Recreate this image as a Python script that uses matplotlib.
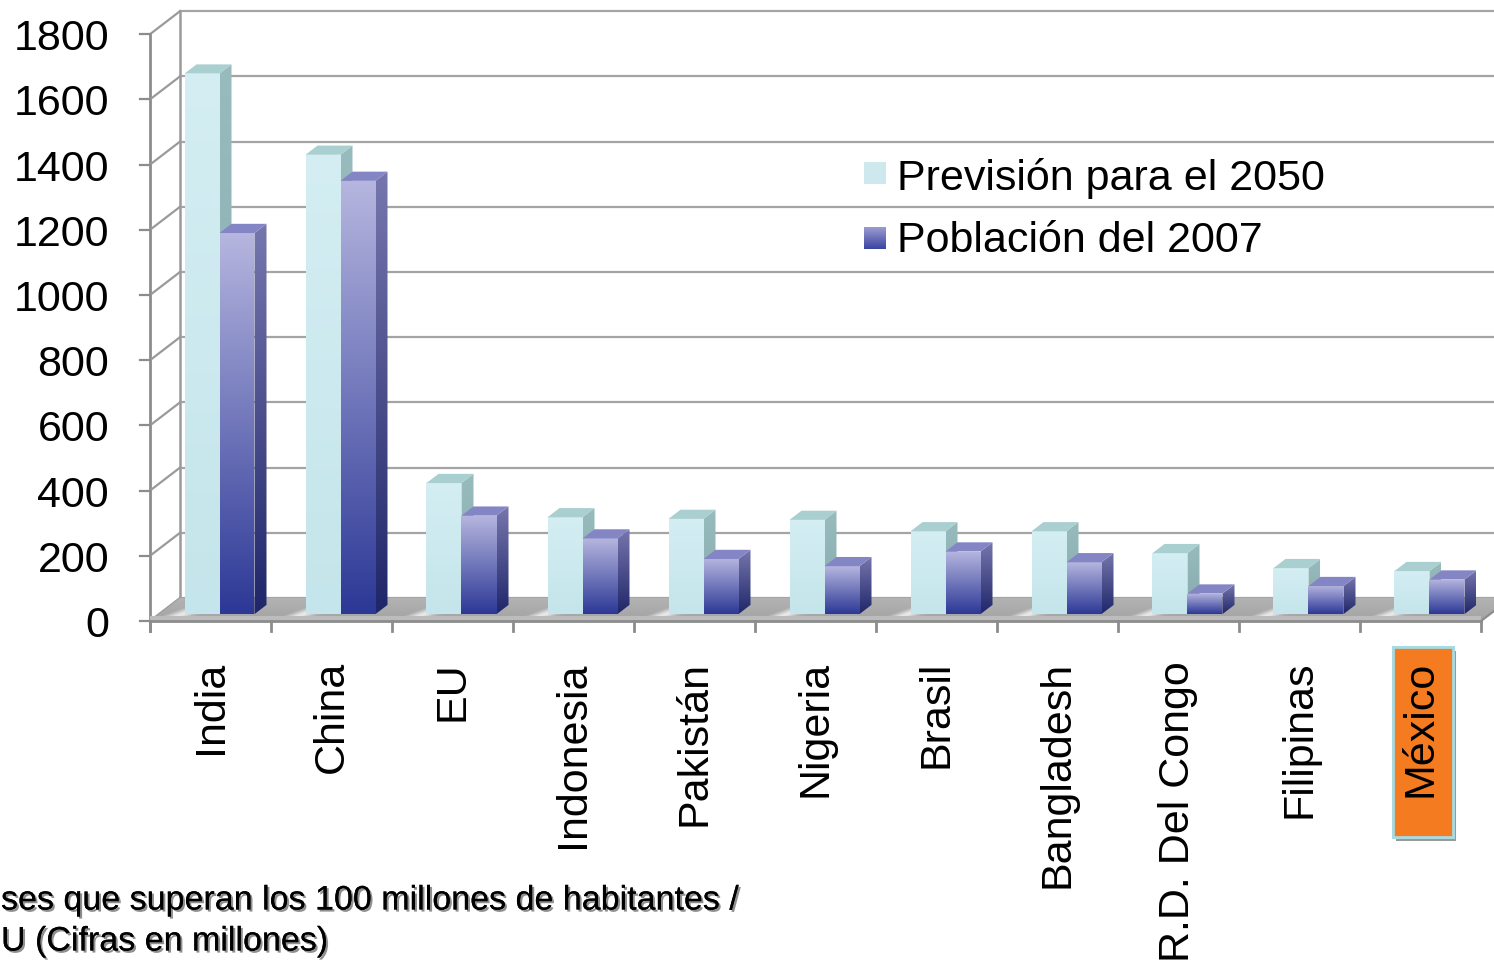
import matplotlib.pyplot as plt
import matplotlib.patheffects as pe
from matplotlib.patches import Polygon, Rectangle
from matplotlib.colors import LinearSegmentedColormap
import numpy as np

plt.rcParams['font.family'] = ['Liberation Sans', 'DejaVu Sans']

# datos (millones de habitantes)
paises = ['India', 'China', 'EU', 'Indonesia', 'Pakistán', 'Nigeria', 'Brasil',
          'Bangladesh', 'R.D. Del Congo', 'Filipinas', 'México']
prevision_2050 = [1658, 1409, 402, 297, 292, 289, 254, 254, 187, 141, 132]
poblacion_2007 = [1169, 1329, 302, 232, 169, 147, 192, 159, 63, 86, 106]
yticks = list(range(0, 1801, 200))

# escala: 121 px por categoría, 0.326 px por millón, origen en (150, 622) px
SX = 121.0
SY = 0.326
DX = 30 / SX     # profundidad del "3D"
DY = 23 / SY
FS = 31

def px(x, y):
    return (x - 150) / SX, (622 - y) / SY

fig = plt.figure(figsize=(14.94, 9.70), dpi=100)
ax = fig.add_axes([0, 0, 1, 1])
ax.set_axis_off()

zo = [10]

def relleno(verts, c_top, c_bot, z):
    poly = Polygon(verts, closed=True, facecolor='none', edgecolor='none', zorder=z)
    ax.add_patch(poly)
    xs = [v[0] for v in verts]
    ys = [v[1] for v in verts]
    cmap = LinearSegmentedColormap.from_list('g', [c_top, c_bot])
    grad = np.linspace(0, 1, 256)[:, None]
    im = ax.imshow(grad, cmap=cmap, extent=(min(xs), max(xs), min(ys), max(ys)),
                   origin='upper', aspect='auto', zorder=z, interpolation='bicubic')
    im.set_clip_path(poly)

def barra(x0, w, v, colores):
    f0, f1 = 0.3, 0.7
    bx = x0 + DX * f0
    by = DY * f0
    sx = DX * (f1 - f0)
    sy = DY * (f1 - f0)
    top = by + v
    z = zo[0]
    frente = [(bx, by), (bx + w, by), (bx + w, top), (bx, top)]
    lado = [(bx + w, by), (bx + w + sx, by + sy), (bx + w + sx, top + sy), (bx + w, top)]
    tapa = [(bx, top), (bx + w, top), (bx + w + sx, top + sy), (bx + sx, top + sy)]
    relleno(frente, colores[0], colores[1], z)
    relleno(lado, colores[2], colores[3], z)
    ax.add_patch(Polygon(tapa, closed=True, facecolor=colores[4], edgecolor='none', zorder=z))
    zo[0] += 1

col_claro = ('#d4eef3', '#c4e5eb', '#98bcbd', '#86aaab', '#a9cfd0')
col_oscuro = ('#b6b6df', '#2c3896', '#7777ae', '#1f2669', '#8485c5')

# pared del fondo y rejilla
xr = (1494 - 150) / SX
n = len(paises)
ax.plot([DX, DX], [DY, 1800 + DY], color='#9a9a9a', lw=1.8, zorder=2)
ax.plot([0, 0], [-30, 1800], color='#8c8c8c', lw=2, zorder=2)
for v in yticks:
    ax.plot([DX, xr], [v + DY, v + DY], color='#a4a4a4', lw=1.6, zorder=2)
    ax.plot([0, DX], [v, v + DY], color='#9a9a9a', lw=1.6, zorder=2)
    ax.plot([-0.08, 0], [v, v], color='#8c8c8c', lw=1.6, zorder=2)
    ax.text(-41 / SX, v - 12, str(v), ha='right', va='center', fontsize=FS, color='black')

# suelo con brillo metálico
suelo = [(0, 0), (n, 0), (n + DX, DY), (DX, DY)]
poly = Polygon(suelo, closed=True, facecolor='none', edgecolor='none', zorder=3)
ax.add_patch(poly)
gx, gy = np.meshgrid(np.linspace(0, n + DX, 1400), np.linspace(DY, 0, 40))
t = (gx - gy / DY * 0.5) % 1.0
brillo = 0.64 + 0.26 * np.exp(-((t - 0.12) / 0.09) ** 2) + 0.06 * (gy / DY)
im = ax.imshow(brillo, cmap='gray', vmin=0, vmax=1, extent=(0, n + DX, 0, DY),
               origin='upper', aspect='auto', zorder=3, interpolation='bicubic')
im.set_clip_path(poly)
ax.fill_between([0, n], [0, 0], [14, 14], color='#bcbcbc', zorder=3, lw=0)
ax.plot([0, n], [0, 0], color='#8c8c8c', lw=2, zorder=4)
ax.plot([n, n + DX], [0, DY], color='#8c8c8c', lw=1.6, zorder=4)
for i in range(n + 1):
    ax.plot([i, i], [0, -30], color='#8c8c8c', lw=2, zorder=4)

# barras
w = 35 / SX
for i in range(n):
    x0 = i + 0.5 - w
    barra(x0, w, prevision_2050[i], col_claro)
    barra(x0 + w, w, poblacion_2007[i], col_oscuro)

# etiquetas de países
y_lab = -(661 - 622) / SY
for i, p in enumerate(paises):
    ax.text(i + 0.5, y_lab, p, rotation=90, ha='center', va='top', fontsize=FS,
            color='black', zorder=30)

# recuadro de México
bx0, by1 = px(1393, 648)
bx1, by0 = px(1453, 838)
caja = Rectangle((bx0, by0), bx1 - bx0, by1 - by0, facecolor='#f47b20',
                 edgecolor='#a8dae2', lw=2, zorder=25,
                 path_effects=[pe.withSimplePatchShadow(offset=(2, -3), shadow_rgbFace='#555555', alpha=0.6),
                               pe.Normal()])
ax.add_patch(caja)

# leyenda
lx0, ly1 = px(864, 163)
lx1, ly0 = px(886, 185)
ax.add_patch(Rectangle((lx0, ly0), lx1 - lx0, ly1 - ly0, facecolor='#cde9ee', edgecolor='none', zorder=20))
lx0, ly1 = px(864, 228)
lx1, ly0 = px(886, 250)
relleno([(lx0, ly0), (lx1, ly0), (lx1, ly1), (lx0, ly1)], '#9c9cd2', '#3a44a0', 20)
tx, ty = px(897, 178)
ax.text(tx, ty, 'Previsión para el 2050', ha='left', va='center', fontsize=FS, zorder=20)
tx, ty = px(897, 241)
ax.text(tx, ty, 'Población del 2007', ha='left', va='center', fontsize=FS, zorder=20)

# nota al pie
sombra = [pe.withSimplePatchShadow(offset=(1.5, -1.5), shadow_rgbFace='#333333', alpha=0.55), pe.Normal()]
tx, ty = px(1, 902)
ax.text(tx, ty, 'ses que superan los 100 millones de habitantes /', ha='left', va='center',
        fontsize=24.5, path_effects=sombra, zorder=30)
tx, ty = px(1, 943)
ax.text(tx, ty, 'U (Cifras en millones)', ha='left', va='center',
        fontsize=24.5, path_effects=sombra, zorder=30)

ax.set_xlim(-150 / SX, xr)
ax.set_ylim(-(970 - 622) / SY, 622 / SY)

fig.savefig('out.png', dpi=100, facecolor='white')
